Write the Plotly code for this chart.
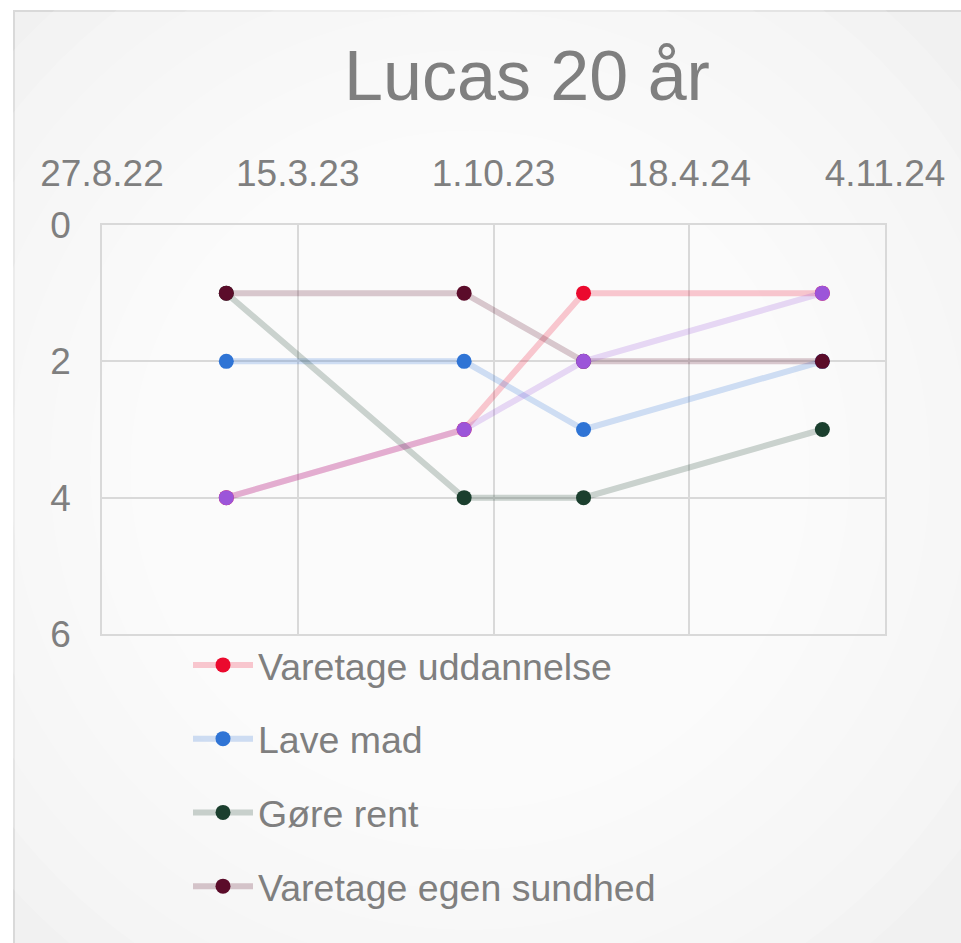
import plotly.graph_objects as go

# --- data -------------------------------------------------------------
dates = ["2023-01-01", "2023-09-01", "2024-01-01", "2024-09-01"]

uddannelse = [4, 3, 1, 1]   # Varetage uddannelse
lave_mad = [2, 2, 3, 2]     # Lave mad
gore_rent = [1, 4, 4, 3]    # Gøre rent
sundhed = [1, 1, 2, 2]      # Varetage egen sundhed
femte = [4, 3, 2, 1]        # fifth series (legend entry falls outside the frame)

tick_dates = ["2022-08-27", "2023-03-15", "2023-10-01", "2024-04-18", "2024-11-04"]
tick_labels = ["27.8.22", "15.3.23", "1.10.23", "18.4.24", "4.11.24"]
y_ticks = [0, 2, 4, 6]

title_text = "Lucas 20 år"

# --- styling ----------------------------------------------------------
W, H = 961, 943
L, R, T, B = 102, 76, 225, 309
PW, PH = W - L - R, H - T - B
FONT = "Liberation Sans, Arial, sans-serif"
TXT = "#7f7f7f"
GRID = "#d9d9d9"


def px_x(px):
    return (px - L) / PW


def px_y(py):
    return (H - B - py) / PH


def rgba(hex_color, a):
    h = hex_color.lstrip("#")
    r, g, b = int(h[0:2], 16), int(h[2:4], 16), int(h[4:6], 16)
    return f"rgba({r},{g},{b},{a})"


series = [
    ("Varetage uddannelse", uddannelse, "#eb0a2e", True),
    ("Lave mad", lave_mad, "#2f74d5", True),
    ("Gøre rent", gore_rent, "#1b3f2e", True),
    ("Varetage egen sundhed", sundhed, "#5b0c2a", True),
    ("Serie 5", femte, "#9c55d9", False),
]

fig = go.Figure()
for i, (name, vals, col, show) in enumerate(series):
    fig.add_trace(go.Scatter(
        x=dates, y=vals, name=name, mode="lines+markers",
        line=dict(color=rgba(col, 0.22), width=6),
        marker=dict(color=col, size=15),
        legendgroup=f"g{i}", showlegend=show,
    ))

# chart frame with a soft radial fill
shapes = [dict(type="rect", xref="paper", yref="paper",
               x0=px_x(14), x1=px_x(1100), y0=px_y(11), y1=px_y(1000),
               fillcolor="#f1f1f1", line=dict(color=GRID, width=2), layer="below")]
cx, cy = 470, 470
for k in range(14):
    rad = 620 - k * 40
    shapes.append(dict(type="circle", xref="paper", yref="paper",
                       x0=px_x(cx - rad), x1=px_x(cx + rad),
                       y0=px_y(cy + rad), y1=px_y(cy - rad),
                       fillcolor="rgba(255,255,255,0.17)", line=dict(width=0),
                       layer="below"))

fig.update_layout(
    width=W, height=H,
    margin=dict(l=L, r=R, t=T, b=B, autoexpand=False),
    paper_bgcolor="white", plot_bgcolor="rgba(0,0,0,0)",
    font=dict(family=FONT, color=TXT),
    title=dict(text=title_text, font=dict(size=70, color=TXT, family=FONT),
               xref="container", yref="container",
               x=527 / W, y=1 - 75 / H, xanchor="center", yanchor="middle"),
    shapes=shapes,
    showlegend=True,
    legend=dict(x=px_x(188), y=px_y(634), xanchor="left", yanchor="top",
                font=dict(size=37.5, color=TXT, family=FONT),
                bgcolor="rgba(0,0,0,0)", traceorder="grouped",
                tracegroupgap=22, itemwidth=60),
    xaxis=dict(type="date", side="top",
               range=[tick_dates[0], tick_dates[-1]],
               tickvals=tick_dates, ticktext=tick_labels,
               tickfont=dict(size=37, color=TXT, family=FONT),
               showgrid=True, gridcolor=GRID, gridwidth=1.5,
               showline=True, linecolor=GRID, linewidth=1.5, mirror=True,
               ticks="", ticklabelstandoff=22, zeroline=False),
    yaxis=dict(range=[6, 0], tickvals=y_ticks,
               tickfont=dict(size=37, color=TXT, family=FONT),
               showgrid=True, gridcolor=GRID, gridwidth=1.5,
               showline=True, linecolor=GRID, linewidth=1.5, mirror=True,
               ticks="", ticklabelstandoff=22, zeroline=False),
)

fig.write_html("out.html")
